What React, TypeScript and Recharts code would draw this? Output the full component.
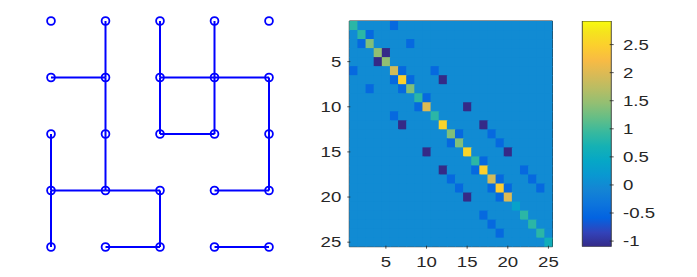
import {
  Bar,
  BarChart,
  Scatter,
  ScatterChart,
  XAxis,
  YAxis,
} from "recharts";

// 5x5 grid graph; node k sits at column (k-1)%5+1, row floor((k-1)/5)+1 (row 1 at the bottom)
const N = 25;
const diag = [
  0.85, 0.85, 1.35, 1.45, 1.45, 1.9, 2.5, 1.35, 0.85, 2.0, 0.85, 2.55, 1.35,
  1.35, 2.55, 0.85, 2.5, 1.9, 2.45, 2.0, 0.35, 0.85, 0.85, 0.85, 0.6,
];
// [node a, node b, matrix weight]
const edges: [number, number, number][] = [
  [1, 6, -0.5], [2, 3, -0.5], [3, 8, -0.5], [4, 5, -1.1], [6, 7, -0.5],
  [6, 11, -0.5], [7, 8, -0.5], [7, 12, -1.1], [9, 10, -0.5], [10, 15, -1.1],
  [12, 17, -1.1], [13, 14, -0.5], [13, 18, -0.5], [14, 19, -0.5], [15, 20, -1.1],
  [16, 17, -0.5], [17, 22, -0.5], [18, 19, -0.5], [18, 23, -0.5], [19, 20, -0.5],
  [19, 24, -0.5],
];
const matTicks = [5, 10, 15, 20, 25];
const barTicks = [-1, -0.5, 0, 0.5, 1, 1.5, 2, 2.5];
const cMin = -1.1;
const cMax = 2.92;

// parula, every 4th entry of the 64-colour map
const parulaStops = [
  [0.2081, 0.1663, 0.5292], [0.1959, 0.2645, 0.7279], [0.0117, 0.3875, 0.882],
  [0.0498, 0.4586, 0.8641], [0.0793, 0.52, 0.8312], [0.0343, 0.5966, 0.8199],
  [0.0228, 0.6535, 0.7768], [0.0843, 0.6928, 0.7062], [0.2178, 0.725, 0.6193],
  [0.3953, 0.7459, 0.5244], [0.5709, 0.7485, 0.4494], [0.7184, 0.7411, 0.3905],
  [0.8507, 0.7299, 0.336], [0.9739, 0.7314, 0.2666], [0.988, 0.8066, 0.1794],
  [0.9589, 0.8949, 0.1132], [0.9763, 0.9831, 0.0538],
];
const stopPos = parulaStops.map((_, i) => Math.min(1, (i * 4) / 63));

const rgb = (c: number[]) =>
  `rgb(${c.map((v) => Math.round(v * 255)).join(",")})`;

function parula(v: number) {
  const t = Math.max(0, Math.min(1, (v - cMin) / (cMax - cMin)));
  let i = 0;
  while (i < stopPos.length - 2 && t > stopPos[i + 1]) i++;
  const f = (t - stopPos[i]) / (stopPos[i + 1] - stopPos[i]);
  const a = parulaStops[i];
  const b = parulaStops[i + 1];
  return rgb(a.map((x, k) => x + (b[k] - x) * f));
}

const nodePos = (k: number) => ({ x: ((k - 1) % 5) + 1, y: Math.floor((k - 1) / 5) + 1 });
const nodes = Array.from({ length: N }, (_, i) => nodePos(i + 1));

const weight = (r: number, c: number) => {
  if (r === c) return diag[r - 1];
  const e = edges.find(([a, b]) => (a === r && b === c) || (a === c && b === r));
  return e ? e[2] : 0;
};
const cells: { x: number; y: number; v: number }[] = [];
for (let r = 1; r <= N; r++)
  for (let c = 1; c <= N; c++) cells.push({ x: c, y: r, v: weight(r, c) });

const barData = [{ name: "c", range: [cMin, cMax] }];

const ink = "#262626";
const font = '"Liberation Sans", Arial, Helvetica, sans-serif';
const blue = "#0000ff";

const plot = { left: 49.3, top: 21, width: 203.2, height: 225.7 };
const cellW = plot.width / N;
const cellH = plot.height / N;

const Label = ({ x, y, anchor, children }: any) => (
  <text
    transform={`translate(${x},${y}) scale(1.33,1)`}
    textAnchor={anchor}
    fontSize={14}
    fontFamily={font}
    fill={ink}
  >
    {children}
  </text>
);

const BottomTick = ({ x, y, payload }: any) => (
  <g>
    <line x1={x} x2={x} y1={y} y2={y - 3} stroke={ink} strokeWidth={0.8} />
    <Label x={x} y={y + 18} anchor="middle">{payload.value}</Label>
  </g>
);
const LeftTick = ({ x, y, payload }: any) => (
  <g>
    <line x1={x} x2={x + 3} y1={y} y2={y} stroke={ink} strokeWidth={0.8} />
    <Label x={x - 6} y={y + 5} anchor="end">{payload.value}</Label>
  </g>
);
const TopTick = ({ x, y }: any) => (
  <line x1={x} x2={x} y1={y} y2={y + 3} stroke={ink} strokeWidth={0.8} />
);
const RightTick = ({ x, y }: any) => (
  <line x1={x} x2={x - 3} y1={y} y2={y} stroke={ink} strokeWidth={0.8} />
);
const BarTick = ({ x, y, payload }: any) => (
  <g>
    <line x1={x} x2={x - 4} y1={y} y2={y} stroke={ink} strokeWidth={0.8} />
    <Label x={x + 9.3} y={y + 5} anchor="start">{payload.value}</Label>
  </g>
);

const Cell = ({ cx, cy, payload }: any) => (
  <rect
    x={cx - cellW / 2}
    y={cy - cellH / 2}
    width={cellW + (payload.x < N ? 1 : 0)}
    height={cellH + (payload.y < N ? 1 : 0)}
    fill={parula(payload.v)}
  />
);
const NodeMark = ({ cx, cy }: any) => (
  <circle cx={cx} cy={cy} r={3.9} fill="none" stroke={blue} strokeWidth={1.8} />
);
const NoMark = () => <g />;

function GraphPlot() {
  return (
    <ScatterChart width={320} height={277} margin={{ top: 21, right: 51, bottom: 30, left: 51 }}>
      <XAxis type="number" dataKey="x" domain={[1, 5]} hide />
      <YAxis type="number" dataKey="y" domain={[1, 5]} hide />
      {edges.map(([a, b], i) => (
        <Scatter
          key={i}
          data={[nodePos(a), nodePos(b)]}
          line={{ stroke: blue, strokeWidth: 2 }}
          shape={NoMark}
          isAnimationActive={false}
        />
      ))}
      <Scatter data={nodes} shape={NodeMark} isAnimationActive={false} />
    </ScatterChart>
  );
}

function MatrixPlot() {
  const w = 272;
  return (
    <ScatterChart
      width={w}
      height={277}
      margin={{
        top: plot.top - 1,
        left: plot.left - 1,
        right: w - plot.left - plot.width - 1,
        bottom: 277 - plot.top - plot.height - 1,
      }}
    >
      <XAxis xAxisId="b" type="number" dataKey="x" domain={[0.5, 25.5]} ticks={matTicks}
        interval={0} height={1} tickSize={0} tickLine={false} axisLine={{ stroke: ink }} tick={BottomTick} />
      <XAxis xAxisId="t" orientation="top" type="number" domain={[0.5, 25.5]} ticks={matTicks}
        interval={0} height={1} tickSize={0} tickLine={false} axisLine={{ stroke: ink }} tick={TopTick} />
      <YAxis yAxisId="l" type="number" dataKey="y" domain={[0.5, 25.5]} reversed ticks={matTicks}
        interval={0} width={1} tickSize={0} tickLine={false} axisLine={{ stroke: ink }} tick={LeftTick} />
      <YAxis yAxisId="r" orientation="right" type="number" domain={[0.5, 25.5]} reversed ticks={matTicks}
        interval={0} width={1} tickSize={0} tickLine={false} axisLine={{ stroke: ink }} tick={RightTick} />
      <Scatter xAxisId="b" yAxisId="l" data={cells} shape={Cell} isAnimationActive={false} />
    </ScatterChart>
  );
}

function ColorBar() {
  const w = 137;
  const left = 22.3;
  const right = 51.7;
  return (
    <BarChart
      width={w}
      height={277}
      data={barData}
      barCategoryGap={0}
      margin={{ top: plot.top, left, right: w - right - 1, bottom: 277 - plot.top - plot.height }}
    >
      <defs>
        <linearGradient id="parulaGrad" x1="0" y1="1" x2="0" y2="0">
          {parulaStops.map((c, i) => (
            <stop key={i} offset={stopPos[i]} stopColor={rgb(c)} />
          ))}
        </linearGradient>
      </defs>
      <XAxis dataKey="name" hide />
      <YAxis orientation="right" type="number" domain={[cMin, cMax]} ticks={barTicks}
        interval={0} width={1} tickSize={0} tickLine={false} axisLine={false} tick={BarTick}
        allowDataOverflow />
      <Bar dataKey="range" fill="url(#parulaGrad)" stroke={ink} strokeWidth={0.8}
        isAnimationActive={false} />
    </BarChart>
  );
}

export default function App() {
  return (
    <div style={{ position: "absolute", left: 0, top: 0, width: 697, height: 277, background: "#fff" }}>
      <div style={{ position: "absolute", left: 0, top: 0 }}>
        <GraphPlot />
      </div>
      <div style={{ position: "absolute", left: 300, top: 0 }}>
        <MatrixPlot />
      </div>
      <div style={{ position: "absolute", left: 560, top: 0 }}>
        <ColorBar />
      </div>
    </div>
  );
}
